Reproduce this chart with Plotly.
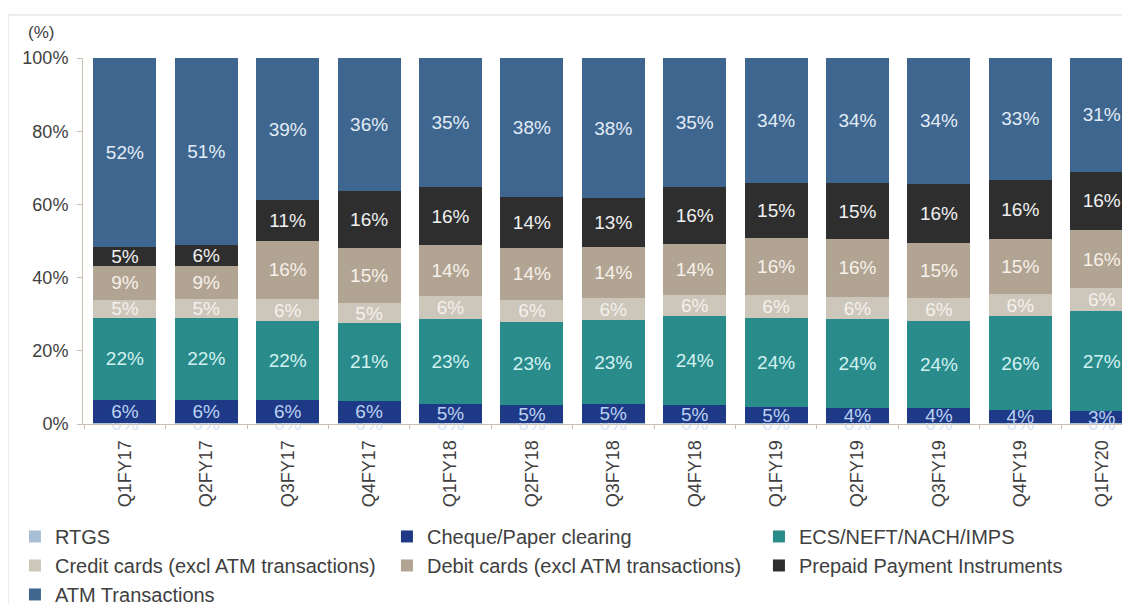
import plotly.graph_objects as go

quarters = ["Q1FY17", "Q2FY17", "Q3FY17", "Q4FY17", "Q1FY18", "Q2FY18", "Q3FY18",
            "Q4FY18", "Q1FY19", "Q2FY19", "Q3FY19", "Q4FY19", "Q1FY20"]

# share of payment volume, %
rtgs = [0.2, 0.2, 0.2, 0.2, 0.2, 0.2, 0.2, 0.2, 0.2, 0.2, 0.2, 0.2, 0.2]
cheque = [6.4, 6.4, 6.3, 6.2, 5.3, 5.0, 5.2, 5.0, 4.5, 4.2, 4.2, 3.6, 3.4]
ecs = [22.4, 22.4, 21.6, 21.2, 23.2, 22.8, 23.0, 24.2, 24.4, 24.2, 23.8, 25.7, 27.2]
credit = [5.0, 5.3, 6.1, 5.4, 6.2, 6.0, 6.0, 6.0, 6.1, 6.2, 6.3, 6.0, 6.4]
debit = [9.1, 8.9, 15.8, 15.2, 14.0, 14.1, 14.1, 13.8, 15.7, 15.8, 15.0, 15.1, 15.8]
prepaid = [5.3, 5.7, 11.2, 15.6, 15.9, 14.0, 13.2, 15.6, 15.1, 15.2, 16.2, 16.2, 16.0]
atm = [51.6, 51.1, 38.8, 36.2, 35.2, 37.9, 38.3, 35.2, 34.0, 34.2, 34.3, 33.2, 31.0]

series = [
    ("RTGS", rtgs, "#a9bfd6", "#d8e4f2"),
    ("Cheque/Paper clearing", cheque, "#1e3a86", "#bcd2f2"),
    ("ECS/NEFT/NACH/IMPS", ecs, "#2a8b8b", "#d2f2f2"),
    ("Credit cards (excl ATM transactions)", credit, "#cdc6bb", "#f4f1ec"),
    ("Debit cards (excl ATM transactions)", debit, "#b2a492", "#f6f1ea"),
    ("Prepaid Payment Instruments", prepaid, "#2e2e2e", "#f0f0f0"),
    ("ATM Transactions", atm, "#3e668e", "#e2ecf6"),
]

FONT = "Liberation Sans, Arial, sans-serif"
AXIS = "#c9bfb5"

fig = go.Figure()
for name, vals, color, txtcolor in series:
    fig.add_trace(go.Bar(
        x=quarters, y=vals, name=name,
        marker=dict(color=color, line=dict(width=0)),
        texttemplate="%{y:.0f}%",
        textposition="inside",
        insidetextanchor="middle",
        constraintext="none",
        textangle=0,
        cliponaxis=False,
        textfont=dict(family=FONT, size=19, color=txtcolor),
        hoverinfo="skip",
    ))

# the page body adds an 8px offset, so the figure is 8px smaller than the window
fig.update_layout(
    barmode="stack",
    bargap=0.225,
    width=1122, height=596,
    margin=dict(l=75, r=0, t=50, b=180, autoexpand=False),
    paper_bgcolor="white",
    plot_bgcolor="white",
    font=dict(family=FONT, size=18, color="#404040"),
    showlegend=True,
    legend=dict(
        orientation="h",
        traceorder="normal",
        x=-0.065, xanchor="left",
        y=-0.254, yanchor="top",
        entrywidth=327, entrywidthmode="pixels",
        font=dict(family=FONT, size=20, color="#404040"),
        itemclick=False,
        tracegroupgap=0,
    ),
    xaxis=dict(
        range=[-0.515, 12.347],
        automargin=False,
        tickangle=-90,
        showline=True, linecolor=AXIS, linewidth=1,
        ticks="outside", tickson="boundaries", ticklen=4, tickcolor=AXIS,
        ticklabelstandoff=8,
        showgrid=False,
        tickfont=dict(family=FONT, size=18, color="#404040"),
    ),
    yaxis=dict(
        range=[0, 100.05],
        automargin=False,
        tickvals=[0, 20, 40, 60, 80, 100],
        ticktext=["0%", "20%", "40%", "60%", "80%", "100%"],
        showline=True, linecolor=AXIS, linewidth=1,
        ticks="outside", ticklen=5, tickcolor=AXIS,
        ticklabelstandoff=5,
        showgrid=False, zeroline=False,
        tickfont=dict(family=FONT, size=18, color="#404040"),
    ),
    annotations=[dict(
        text="(%)", xref="paper", yref="paper",
        x=-0.040, y=1.071, xanchor="center", yanchor="middle",
        showarrow=False, font=dict(family=FONT, size=17, color="#404040"),
    )],
    shapes=[dict(
        type="rect", xref="paper", yref="paper",
        x0=-0.0716, x1=1.05, y0=-0.6, y1=1.1175,
        line=dict(color="#dcdcdc", width=1), layer="below",
    )],
)

fig.write_html("out.html")
